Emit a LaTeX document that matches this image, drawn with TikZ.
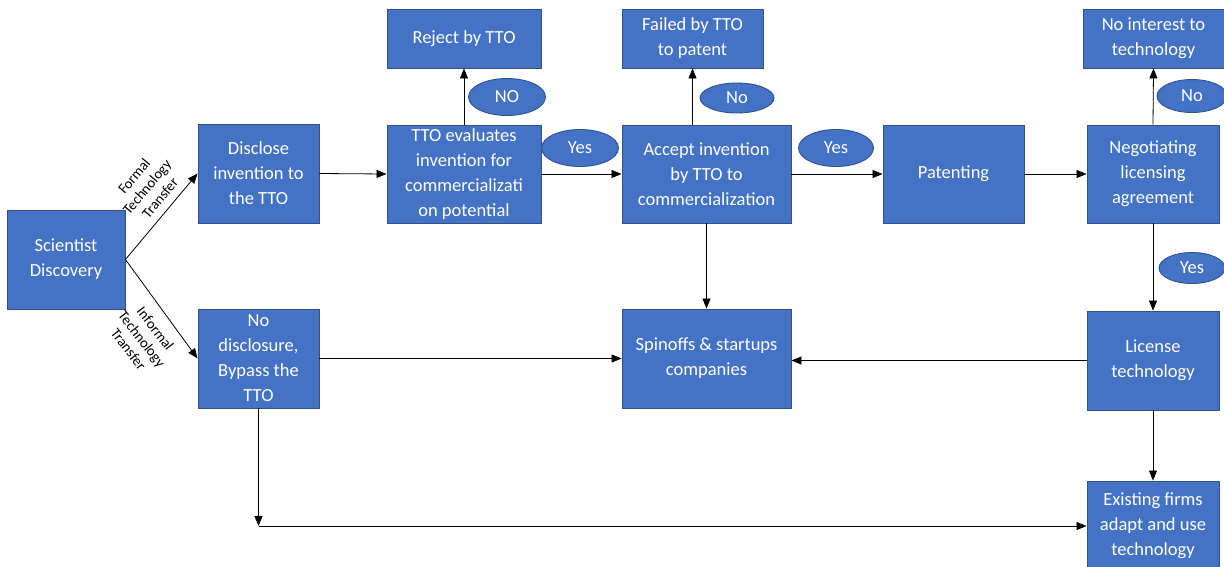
\documentclass[tikz,border=0pt]{standalone}
\usepackage{fontspec}
\setmainfont{Carlito}
\usetikzlibrary{arrows.meta,shapes.geometric}
\definecolor{boxfill}{HTML}{4472C4}
\definecolor{boxline}{HTML}{2F528F}
\begin{document}
\begin{tikzpicture}[x=1pt,y=-1pt,
  box/.style={draw=boxline,line width=0.9pt,fill=boxfill,text=white,align=center,
    inner sep=2pt,font=\fontsize{18.5}{25}\selectfont},
  tag/.style={ellipse,draw=boxline,line width=0.9pt,fill=boxfill,text=white,inner sep=0pt,
    font=\fontsize{18.5}{22}\selectfont},
  flow/.style={draw=black,line width=0.8pt,-{Triangle[length=10pt,width=8pt]}},
  side/.style={font=\fontsize{14.5}{17}\selectfont,align=center,inner sep=0pt}]
\useasboundingbox[fill=white] (0,0) rectangle (1224,566);

% process boxes
\node[box,minimum width=118pt,minimum height=99pt] (sci) at (66,259.5) {Scientist\\Discovery};
\node[box,minimum width=121pt,minimum height=99pt] (disc) at (258.5,173.5) {Disclose\\invention to\\the TTO};
\node[box,minimum width=121pt,minimum height=99pt] (nodisc) at (258.5,358.5) {No\\disclosure,\\Bypass the\\TTO};
\node[box,minimum width=154pt,minimum height=98pt] (eval) at (464,174) {TTO evaluates\\invention for\\commercializati\\on potential};
\node[box,minimum width=154pt,minimum height=59pt] (reject) at (464,38.5) {Reject by TTO};
\node[box,minimum width=141pt,minimum height=59pt] (failed) at (692.5,38.5) {Failed by TTO\\to patent};
\node[box,minimum width=169pt,minimum height=98pt] (accept) at (706.5,174) {Accept invention\\by TTO to\\commercialization};
\node[box,minimum width=141pt,minimum height=98pt] (patent) at (953.5,174) {Patenting};
\node[box,minimum width=132pt,minimum height=98pt] (nego) at (1153,174) {Negotiating\\licensing\\agreement};
\node[box,minimum width=141pt,minimum height=59pt] (noint) at (1153.5,38.5) {No interest to\\technology};
\node[box,minimum width=169pt,minimum height=99pt] (spin) at (706.5,358.5) {Spinoffs \& startups\\companies};
\node[box,minimum width=132pt,minimum height=99pt] (lic) at (1153,360.5) {License\\technology};
\node[box,minimum width=132pt,minimum height=90pt] (exist) at (1153,526) {Existing firms\\adapt and use\\technology};

% decision tags
\node[tag,minimum width=77pt,minimum height=37pt] (t1) at (507,97) {NO};
\node[tag,minimum width=77pt,minimum height=37pt] (t2) at (580,148) {Yes};
\node[tag,minimum width=74pt,minimum height=30pt] (t3) at (737,98) {No};
\node[tag,minimum width=75pt,minimum height=37pt] (t4) at (836,148) {Yes};
\node[tag,minimum width=70pt,minimum height=33pt] (t5) at (1192,96) {No};
\node[tag,minimum width=66pt,minimum height=31pt] (t6) at (1192,268) {Yes};

% transfer routes
\draw[flow] (sci.east) -- (disc.west);
\draw[flow] (sci.east) -- (nodisc.west);
\node[side,rotate=50] (formal) at (147,187) {Formal\\Technology\\Transfer};
\node[side,rotate=-52] (informal) at (142,339) {Informal\\Technology\\Transfer};

% main line
\draw[flow] (disc.east) -- (eval.west);
\draw[flow] (eval.east) -- (accept.west);
\draw[flow] (accept.east) -- (patent.west);
\draw[flow] (patent.east) -- (nego.west);

% upward outcomes
\draw[flow] (eval.north) -- (reject.south);
\draw[flow] (accept.north -| failed.south) -- (failed.south);
\draw[flow] (nego.north) -- (noint.south);

% downward outcomes
\draw[flow] (accept.south) -- (spin.north);
\draw[flow] (nego.south) -- (lic.north);
\draw[flow] (lic.south) -- (exist.north);
\draw[flow] (nodisc.east) -- (spin.west);
\draw[flow] (lic.west) -- (spin.east |- lic.west);

% bypass route to existing firms
\coordinate (corner) at (nodisc.south |- exist.west);
\draw[flow] (nodisc.south) -- (corner);
\draw[flow] (corner) -- (exist.west);
\end{tikzpicture}
\end{document}
